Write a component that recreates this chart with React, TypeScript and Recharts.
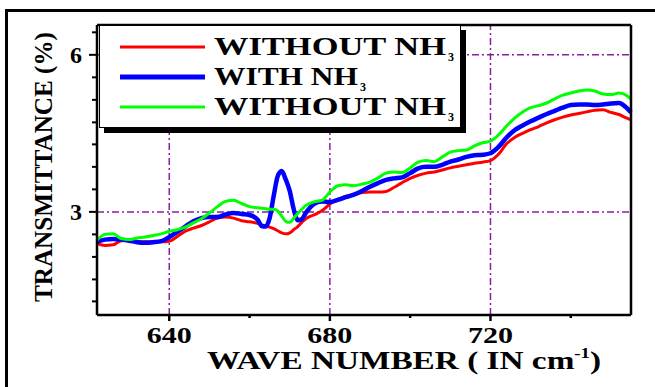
import {
  LineChart,
  Line,
  XAxis,
  YAxis,
  ReferenceLine,
  Legend,
} from 'recharts';

// wave number (cm-1)
const waveNumbers = [
  622, 624, 626, 628, 630, 632, 634, 636, 638, 640, 642, 644, 646, 648, 650, 652, 654, 656, 658, 660,
  662, 663, 664, 665, 666, 667, 668, 669, 670, 671, 672, 673, 674, 676, 678, 680, 682, 684, 686, 688,
  690, 692, 694, 696, 698, 700, 702, 704, 706, 708, 710, 712, 714, 716, 718, 720, 722, 724, 726, 728,
  730, 732, 734, 736, 738, 740, 742, 744, 746, 748, 750, 752, 754, 755,
];

const withoutNH3 = [
  2.40, 2.36, 2.37, 2.45, 2.46, 2.44, 2.43, 2.43, 2.43, 2.44, 2.53, 2.63, 2.69, 2.74, 2.81, 2.88, 2.90, 2.88, 2.83, 2.81,
  2.78, 2.75, 2.73, 2.71, 2.68, 2.64, 2.60, 2.58, 2.60, 2.66, 2.72, 2.80, 2.87, 2.94, 3.02, 3.15, 3.24, 3.30, 3.33, 3.37,
  3.38, 3.38, 3.39, 3.47, 3.56, 3.64, 3.70, 3.74, 3.76, 3.80, 3.84, 3.87, 3.90, 3.93, 3.95, 3.98, 4.10, 4.30, 4.42, 4.50,
  4.57, 4.63, 4.70, 4.76, 4.81, 4.85, 4.88, 4.91, 4.94, 4.95, 4.90, 4.86, 4.79, 4.76,
];

const withNH3 = [
  2.43, 2.47, 2.48, 2.47, 2.45, 2.42, 2.41, 2.42, 2.44, 2.52, 2.62, 2.72, 2.82, 2.88, 2.90, 2.90, 2.95, 2.98, 2.96, 2.94,
  2.85, 2.73, 2.72, 2.88, 3.30, 3.68, 3.78, 3.62, 3.40, 3.05, 2.84, 2.86, 2.98, 3.15, 3.20, 3.19, 3.23, 3.28, 3.33, 3.40,
  3.48, 3.55, 3.61, 3.64, 3.66, 3.74, 3.83, 3.86, 3.86, 3.90, 3.96, 4.00, 4.05, 4.08, 4.09, 4.12, 4.24, 4.42, 4.56, 4.65,
  4.73, 4.80, 4.87, 4.93, 4.99, 5.04, 5.05, 5.05, 5.04, 5.05, 5.07, 5.08, 4.98, 4.90,
];

const withoutNH3b = [
  2.46, 2.57, 2.58, 2.49, 2.47, 2.50, 2.52, 2.55, 2.58, 2.63, 2.66, 2.71, 2.79, 2.87, 2.98, 3.10, 3.20, 3.22, 3.16, 3.10,
  3.08, 3.07, 3.06, 3.05, 3.05, 3.02, 2.92, 2.82, 2.80, 2.88, 2.97, 3.05, 3.12, 3.19, 3.22, 3.38, 3.50, 3.52, 3.50, 3.53,
  3.57, 3.65, 3.74, 3.76, 3.75, 3.84, 3.95, 3.98, 3.96, 4.05, 4.14, 4.17, 4.18, 4.26, 4.32, 4.35, 4.47, 4.64, 4.79, 4.91,
  4.99, 5.03, 5.08, 5.16, 5.23, 5.27, 5.31, 5.33, 5.31, 5.25, 5.24, 5.27, 5.22, 5.15,
];

const xTicks = [640, 660, 680, 700, 720, 740];
const xLabelled = [640, 680, 720];
const yTicks = [1.29, 1.71, 2.14, 2.57, 3, 3.43, 3.86, 4.29, 4.71, 5.14, 5.57, 6, 6.43];
const yLabelled = [3, 6];

const legendItems = [
  { label: 'WITHOUT NH', sub: '3', color: '#ff0000', width: 3, textLength: 232 },
  { label: 'WITH NH', sub: '3', color: '#0000ff', width: 5, textLength: 144 },
  { label: 'WITHOUT NH', sub: '3', color: '#00ff00', width: 3, textLength: 232 },
];

const chartData = waveNumbers.map((w, i) => ({
  wave: w,
  without: withoutNH3[i],
  withNh: withNH3[i],
  without2: withoutNH3b[i],
}));

const FONT = '"Liberation Serif", "Times New Roman", serif';
const GRID = '#8a1fa0';

function XTick({ x, y, payload }: any) {
  const v = payload.value;
  const major = xLabelled.includes(v);
  return (
    <g>
      <line x1={x} x2={x} y1={y} y2={y + (major ? 6 : 3)} stroke="#000" strokeWidth={2.5} />
      {major && (
        <text
          x={x}
          y={y + 28}
          textAnchor="middle"
          fontFamily={FONT}
          fontWeight="bold"
          fontSize={24}
          textLength={45}
          lengthAdjust="spacingAndGlyphs"
          fill="#000"
        >
          {v}
        </text>
      )}
    </g>
  );
}

function YTick({ x, y, payload }: any) {
  const v = payload.value;
  const major = yLabelled.includes(v);
  return (
    <g>
      <line x1={x - (major ? 8 : 5)} x2={x} y1={y} y2={y} stroke="#000" strokeWidth={2} />
      {major && (
        <text x={x - 15} y={y + 8} textAnchor="end" fontFamily={FONT} fontWeight="bold" fontSize={24} fill="#000">
          {v}
        </text>
      )}
    </g>
  );
}

function LegendBox() {
  return (
    <div
      style={{
        width: 362,
        height: 103,
        boxSizing: 'border-box',
        border: '1.5px solid #000',
        background: '#fff',
        boxShadow: '5px 5px 0 #000',
      }}
    >
      <svg width={359} height={100} style={{ display: 'block' }}>
        {legendItems.map((item, i) => {
          const cy = 21 + i * 30;
          return (
            <g key={i}>
              <line x1={20} x2={105} y1={cy} y2={cy} stroke={item.color} strokeWidth={item.width} />
              <text
                x={114}
                y={cy + 8}
                fontFamily={FONT}
                fontWeight="bold"
                fontSize={25}
                textLength={item.textLength}
                lengthAdjust="spacingAndGlyphs"
                fill="#000"
              >
                {item.label}
              </text>
              <text x={114 + item.textLength + 2} y={cy + 14} fontFamily={FONT} fontWeight="bold" fontSize={12} fill="#000">
                {item.sub}
              </text>
            </g>
          );
        })}
      </svg>
    </div>
  );
}

export default function App() {
  return (
    <div style={{ position: 'absolute', left: 0, top: 0, width: 655, height: 387, background: '#fff', overflow: 'hidden' }}>
      <div
        style={{
          position: 'absolute',
          left: 5,
          top: 9,
          width: 660,
          height: 400,
          borderLeft: '3px solid #000',
          borderTop: '3px solid #000',
        }}
      />
      <div style={{ position: 'absolute', left: 0, top: 0 }}>
        <LineChart width={655} height={387} data={chartData} margin={{ top: 0, right: 0, bottom: 0, left: 0 }}>
          <XAxis
            dataKey="wave"
            type="number"
            domain={[622, 755]}
            ticks={xTicks}
            interval={0}
            height={72}
            tickSize={0}
            tickMargin={0}
            tick={<XTick />}
            axisLine={{ stroke: '#000', strokeWidth: 2.5 }}
            label={{
              content: () => (
                <text
                  x={207}
                  y={369}
                  textLength={394}
                  lengthAdjust="spacingAndGlyphs"
                  fontFamily={FONT}
                  fontWeight="bold"
                  fontSize={25}
                  fill="#000"
                >
                  WAVE NUMBER ( IN cm<tspan dy={-11} fontSize={14}>-1</tspan>
                  <tspan dy={11}>)</tspan>
                </text>
              ),
            }}
          />
          <XAxis xAxisId="top" orientation="top" dataKey="wave" type="number" domain={[622, 755]} height={25} tick={false} tickLine={false} axisLine={{ stroke: '#000', strokeWidth: 2.5 }} />
          <YAxis
            type="number"
            domain={[1.03, 6.57]}
            ticks={yTicks}
            interval={0}
            width={97}
            tickSize={0}
            tickMargin={0}
            tick={<YTick />}
            axisLine={{ stroke: '#000', strokeWidth: 2.5 }}
            label={{
              content: () => (
                <text
                  transform="translate(52,167) rotate(-90)"
                  textAnchor="middle"
                  textLength={270}
                  lengthAdjust="spacingAndGlyphs"
                  fontFamily={FONT}
                  fontWeight="bold"
                  fontSize={24.5}
                  fill="#000"
                >
                  TRANSMITTANCE (%)
                </text>
              ),
            }}
          />
          <YAxis yAxisId="right" orientation="right" domain={[1.03, 6.57]} width={24} tick={false} tickLine={false} axisLine={{ stroke: '#000', strokeWidth: 2.5 }} />
          {xLabelled.map((v) => (
            <ReferenceLine key={'x' + v} x={v} stroke={GRID} strokeWidth={1.5} strokeDasharray="7 3 2 3" />
          ))}
          {yLabelled.map((v) => (
            <ReferenceLine key={'y' + v} y={v} stroke={GRID} strokeWidth={1.5} strokeDasharray="7 3 2 3" />
          ))}
          <Line type="monotone" dataKey="without" name="WITHOUT NH3" stroke="#ff0000" strokeWidth={3} dot={false} isAnimationActive={false} />
          <Line type="monotone" dataKey="withNh" name="WITH NH3" stroke="#0000ff" strokeWidth={4.5} dot={false} isAnimationActive={false} />
          <Line type="monotone" dataKey="without2" name="WITHOUT NH3" stroke="#00ff00" strokeWidth={3} dot={false} isAnimationActive={false} />
          <Legend
            layout="horizontal"
            verticalAlign="middle"
            align="center"
            content={() => <LegendBox />}
            wrapperStyle={{ position: 'absolute', left: 99, top: 25, bottom: 'auto', width: 362, height: 103 }}
          />
        </LineChart>
      </div>
    </div>
  );
}
